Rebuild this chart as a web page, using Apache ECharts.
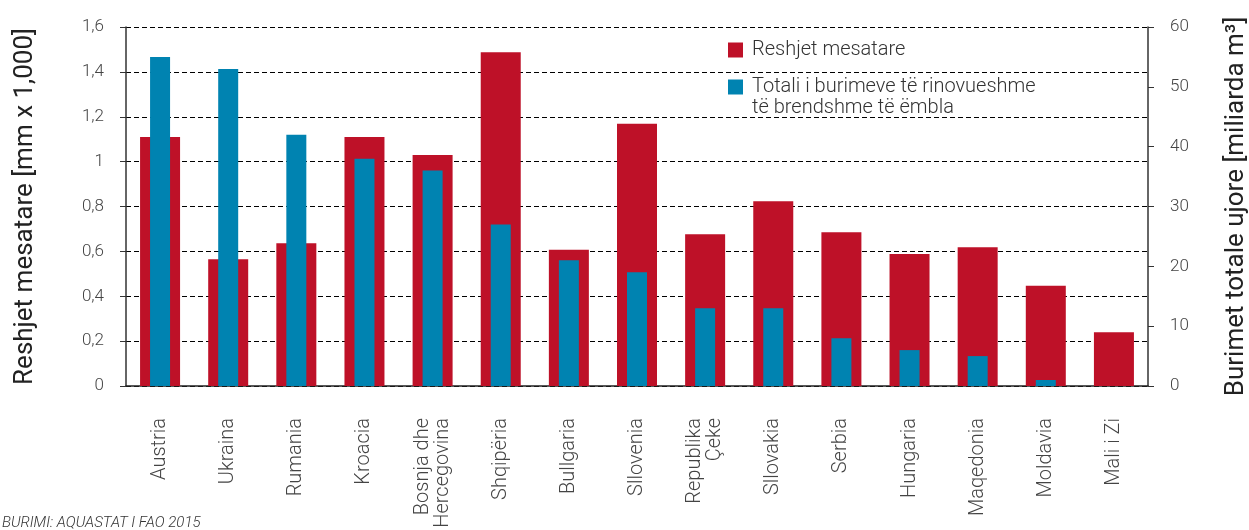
<!DOCTYPE html>
<html>
<head>
<meta charset="utf-8">
<script src="https://cdn.jsdelivr.net/npm/echarts@6/dist/echarts.min.js"></script>
<style>
  html, body { margin: 0; padding: 0; background: #fff; }
  #chart { width: 1249px; height: 530px; }
</style>
</head>
<body>
<div id="chart"></div>
<script>
  // te dhenat
  var categories = ['Austria', 'Ukraina', 'Rumania', 'Kroacia', 'Bosnja dhe\nHercegovina', 'Shqipëria',
    'Bullgaria', 'Sllovenia', 'Republika\nÇeke', 'Sllovakia', 'Serbia', 'Hungaria', 'Maqedonia', 'Moldavia', 'Mali i Zi'];
  // Reshjet mesatare [mm x 1,000]
  var reshjet = [1.11, 0.565, 0.636, 1.11, 1.03, 1.487, 0.607, 1.169, 0.676, 0.823, 0.685, 0.588, 0.618, 0.447, 0.239];
  // Burimet totale ujore [miliarda m3]
  var burimet = [55, 53, 42, 38, 36, 27, 21, 19, 13, 13, 8, 6, 5, 1, null];
  var leftTicks = ['0', '0,2', '0,4', '0,6', '0,8', '1', '1,2', '1,4', '1,6'];

  var font = 'Roboto';
  var chart = echarts.init(document.getElementById('chart'));

  var option = {
    animation: false,
    textStyle: { fontFamily: font },
    grid: { left: 126, right: 101, top: 27, bottom: 144, outerBoundsMode: 'none' },
    legend: {
      orient: 'vertical',
      left: 728,
      top: 40,
      padding: 0,
      itemWidth: 15,
      itemHeight: 15,
      itemGap: 17,
      icon: 'rect',
      textStyle: { fontSize: 20, color: '#333', fontWeight: 300, lineHeight: 20, padding: [0, 0, 0, 4] },
      data: ['Reshjet mesatare', 'Totali i burimeve të rinovueshme']
    },
    xAxis: [
      {
        type: 'category',
        data: categories,
        axisLine: { lineStyle: { color: '#222', width: 1.5 } },
        axisTick: { length: 7, lineStyle: { color: '#222' } },
        axisLabel: { rotate: 90, margin: 32, fontSize: 20, color: '#444', lineHeight: 20, fontWeight: 300 }
      },
      { type: 'category', data: categories, show: false }
    ],
    yAxis: [
      {
        type: 'value',
        min: 0, max: 1.6, interval: 0.2,
        name: 'Reshjet mesatare [mm x 1,000]',
        nameLocation: 'middle',
        nameGap: 88,
        nameTextStyle: { fontSize: 26, color: '#222' },
        axisLine: { show: true, lineStyle: { color: '#333', width: 1.5 } },
        axisTick: { show: true, length: 6, lineStyle: { color: '#333' } },
        axisLabel: {
          margin: 22, fontSize: 17, color: '#444', fontWeight: 300,
          formatter: function (v) { return leftTicks[Math.round(v / 0.2)]; }
        },
        splitLine: { lineStyle: { color: '#000', type: [5, 3], width: 1 } }
      },
      {
        type: 'value',
        min: 0, max: 60, interval: 10,
        name: 'Burimet totale ujore [miliarda m³]',
        nameLocation: 'middle',
        nameGap: 75,
        nameTextStyle: { fontSize: 26, color: '#222' },
        axisLine: { show: true, lineStyle: { color: '#333', width: 1.5 } },
        axisTick: { show: true, length: 6, lineStyle: { color: '#333' } },
        axisLabel: { margin: 22, fontSize: 17, color: '#444', fontWeight: 300 },
        splitLine: { show: false }
      }
    ],
    series: [
      {
        name: 'Reshjet mesatare',
        type: 'bar',
        xAxisIndex: 0,
        yAxisIndex: 0,
        barWidth: 40,
        itemStyle: { color: '#BE1128' },
        data: reshjet
      },
      {
        name: 'Totali i burimeve të rinovueshme',
        type: 'bar',
        xAxisIndex: 1,
        yAxisIndex: 1,
        barWidth: 20,
        itemStyle: { color: '#0083B1' },
        data: burimet
      }
    ],
    graphic: [
      {
        // rreshti i dyte i legjendes
        type: 'text',
        left: 752,
        top: 98,
        style: { text: 'të brendshme të ëmbla', font: '300 20px Roboto', fill: '#333' }
      },
      {
        type: 'text',
        left: 2,
        top: 516,
        style: { text: 'BURIMI: AQUASTAT I FAO 2015', font: 'italic 300 15px Roboto', fill: '#333' }
      }
    ]
  };

  chart.setOption(option);
</script>
</body>
</html>
